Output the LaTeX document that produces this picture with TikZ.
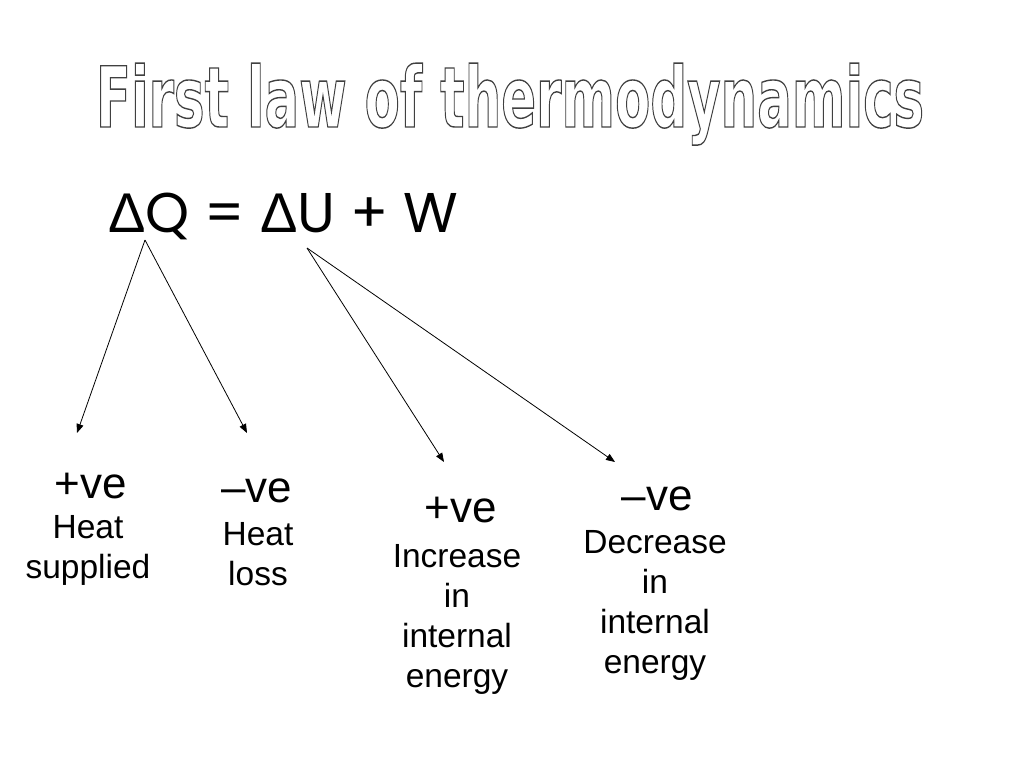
\documentclass[tikz,border=0pt]{standalone}
\usepackage{fontspec}
\usepackage{graphicx}
\setmainfont{Liberation Sans}
\newfontfamily\geofont{Poppins}
\newfontfamily\titlefont{DejaVu Sans Condensed Bold}
\usetikzlibrary{arrows.meta,positioning}
\newcommand{\outlined}[1]{\special{pdf:literal direct 1 Tr 1.4 w 0.25 G}#1\special{pdf:literal direct 0 Tr 0 G}}
\tikzset{
  sign/.style ={font=\fontsize{44}{44}\selectfont, anchor=base, inner sep=0pt},
  note/.style ={font=\fontsize{33.5}{40}\selectfont, align=center, anchor=base, inner sep=0pt},
  arr/.style  ={-{Triangle[length=9pt,width=7pt]}, line width=0.8pt},
}

\begin{document}
\begin{tikzpicture}[x=1pt, y=-1pt]
  \fill[white] (0,0) rectangle (1024,768);
  \useasboundingbox (0,0) rectangle (1024,768);

  % title and equation
  \node[inner sep=0pt, anchor=base] (title) at (510,127)
    {\scalebox{0.68}[1]{\titlefont\fontsize{84}{84}\selectfont\outlined{First law of thermodynamics}}};
  \node[inner sep=0pt, anchor=base west] (eq) at (108,232)
    {\fontsize{56}{56}\selectfont {\symbol{"0394}}{\geofont Q = }{\symbol{"0394}}{\geofont U + W}};
  \coordinate (dq) at (145,240);
  \coordinate (du) at (307,248);

  % signs and meanings (base = last line)
  \node[sign] (qpos) at (91,498) {+ve};
  \node[note] (qposn) at (88,578) {Heat\\supplied};
  \node[sign] (qneg) at (257,502) {--ve};
  \node[note] (qnegn) at (258,585) {Heat\\loss};
  \node[sign] (upos) at (461,522) {+ve};
  \node[note] (uposn) at (457,687) {Increase\\in\\internal\\energy};
  \node[sign] (uneg) at (657,510) {--ve};
  \node[note] (unegn) at (655,673) {Decrease\\in\\internal\\energy};

  % arrow tips
  \coordinate (t1) at (77,433);
  \coordinate (t2) at (247,433);
  \coordinate (t3) at (444,462);
  \coordinate (t4) at (615,462);

  \foreach \a/\b in {dq/t1, dq/t2, du/t3, du/t4}{\draw[arr] (\a) -- (\b);}
\end{tikzpicture}
\end{document}
